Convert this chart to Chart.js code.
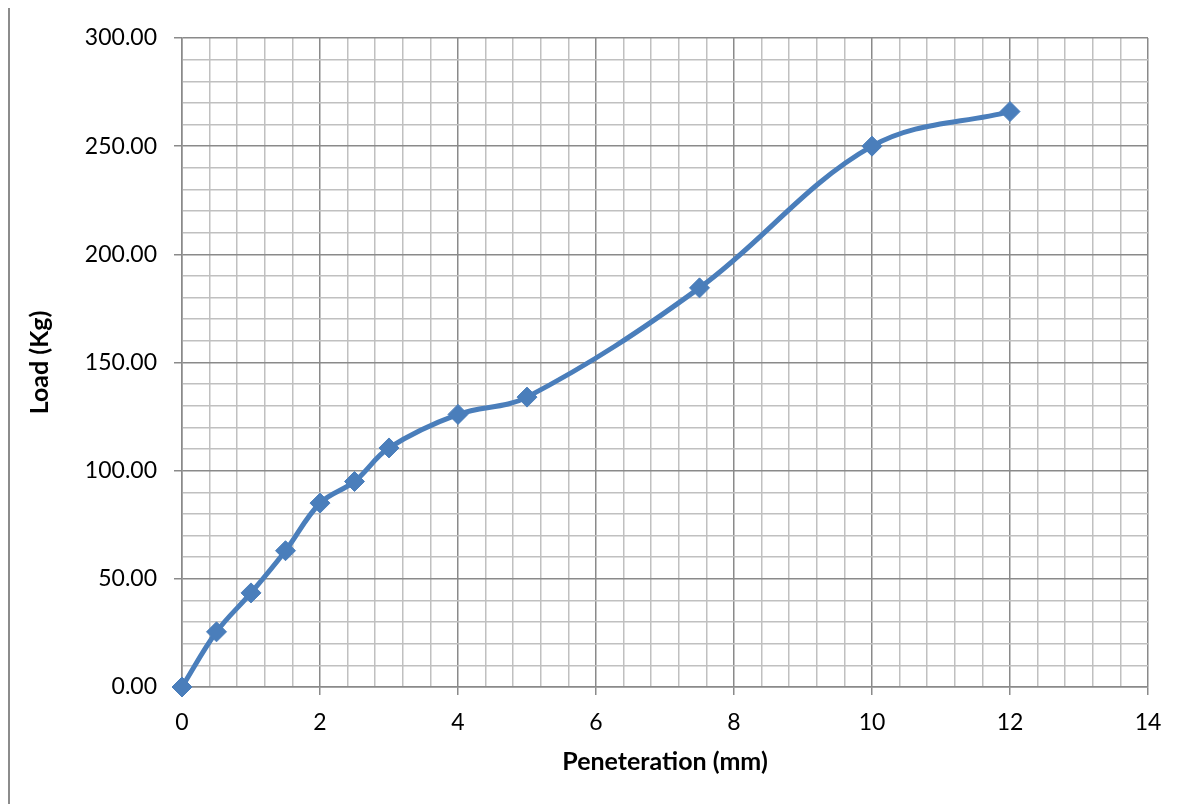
<!DOCTYPE html>
<html>
<head>
<meta charset="utf-8">
<script src="https://cdn.jsdelivr.net/npm/chart.js@4.4.1/dist/chart.umd.min.js"></script>
<style>
  html, body { margin: 0; padding: 0; background: #ffffff; }
  #wrap { position: relative; width: 1183px; height: 804px; }
  #frame { position: absolute; left: 8px; top: 8px; width: 2px; height: 796px; background: #8c8c8c; }
  canvas { position: absolute; left: 0; top: 0; }
</style>
</head>
<body>
<div id="wrap">
  <div id="frame"></div>
  <canvas id="chart" width="1183" height="804"></canvas>
</div>
<script>
// Penetration test: load vs. penetration depth
const penetration = [0, 0.5, 1, 1.5, 2, 2.5, 3, 4, 5, 7.5, 10, 12];
const load = [0, 25.5, 43.5, 63, 85, 95, 110.5, 126, 134, 184.5, 250, 266];

const xMajorTicks = [0, 2, 4, 6, 8, 10, 12, 14];
const yMajorTicks = [0, 50, 100, 150, 200, 250, 300];

const points = penetration.map((x, i) => ({ x: x, y: load[i] }));

const isMajor = (v, list) => list.some(m => Math.abs(m - v) < 1e-6);

const MAJOR = '#8a8a8a';
const MINOR = '#c0c0c0';
const FONT = 'Lato, "Open Sans", sans-serif';

new Chart(document.getElementById('chart'), {
  type: 'line',
  data: {
    datasets: [{
      data: points,
      borderColor: '#4a7ebb',
      backgroundColor: '#4a7ebb',
      borderWidth: 5,
      tension: 0.36,
      clip: false,
      pointStyle: 'rectRot',
      pointRadius: 10,
      pointHoverRadius: 10,
      pointBorderWidth: 1,
      pointBorderColor: '#4a7ebb',
      pointBackgroundColor: '#4a7ebb',
      fill: false
    }]
  },
  options: {
    responsive: false,
    animation: false,
    layout: { padding: { top: 38, right: 35, left: 0, bottom: 0 } },
    plugins: {
      legend: { display: false },
      tooltip: { enabled: false }
    },
    scales: {
      x: {
        type: 'linear',
        min: 0,
        max: 14,
        afterFit: s => { s.height = 117; },
        ticks: {
          stepSize: 0.4,
          autoSkip: false,
          maxRotation: 0,
          padding: 14,
          color: '#000000',
          font: { family: FONT, size: 23 },
          callback: v => isMajor(v, xMajorTicks) ? String(Math.round(v)) : ''
        },
        grid: {
          lineWidth: 1.5,
          tickLength: 8,
          color: c => isMajor(c.tick.value, xMajorTicks) ? MAJOR : MINOR,
          tickColor: c => isMajor(c.tick.value, xMajorTicks) ? MAJOR : 'rgba(0,0,0,0)'
        },
        border: { color: MAJOR, width: 1.5 },
        title: {
          display: true,
          text: 'Peneteration (mm)',
          color: '#000000',
          font: { family: FONT, size: 25, weight: 'bold' },
          padding: { top: 0, bottom: 27 }
        }
      },
      y: {
        type: 'linear',
        min: 0,
        max: 300,
        afterFit: s => { s.width = 182; },
        ticks: {
          stepSize: 10,
          autoSkip: false,
          padding: 17,
          color: '#000000',
          font: { family: FONT, size: 23 },
          callback: v => isMajor(v, yMajorTicks) ? Number(v).toFixed(2) : ''
        },
        grid: {
          lineWidth: 1.5,
          tickLength: 8,
          color: c => isMajor(c.tick.value, yMajorTicks) ? MAJOR : MINOR,
          tickColor: c => isMajor(c.tick.value, yMajorTicks) ? MAJOR : 'rgba(0,0,0,0)'
        },
        border: { color: MAJOR, width: 1.5 },
        title: {
          display: true,
          text: 'Load (Kg)',
          color: '#000000',
          font: { family: FONT, size: 25, weight: 'bold' },
          padding: { top: 25, bottom: 0 }
        }
      }
    }
  }
});
</script>
</body>
</html>
